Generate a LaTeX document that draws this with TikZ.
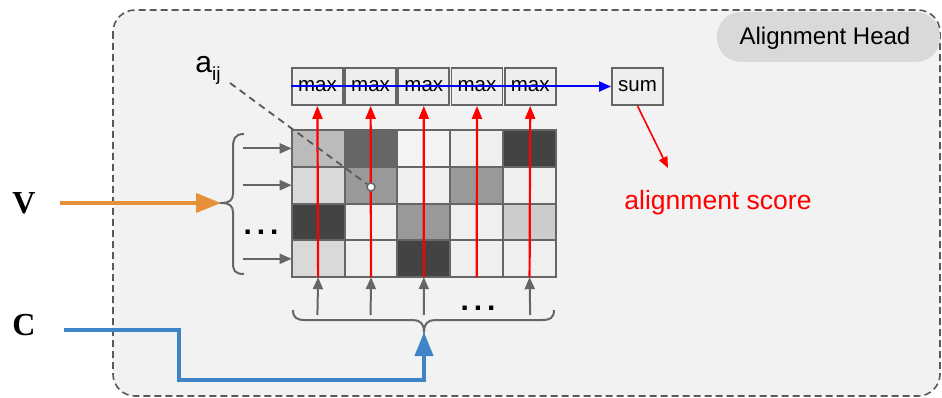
\documentclass[tikz,border=0pt]{standalone}
\usepackage{fontspec}
\setmainfont{Liberation Sans}
\newfontfamily\timesf{Liberation Serif}
\usetikzlibrary{arrows.meta}
\definecolor{boxbg}{HTML}{F2F2F2}
\definecolor{dashc}{HTML}{595959}
\definecolor{pillc}{HTML}{D9D9D9}
\definecolor{gridc}{HTML}{666666}
\definecolor{orangec}{HTML}{E69138}
\definecolor{bluec}{HTML}{3D85C6}
\definecolor{cA}{HTML}{434343}
\definecolor{cB}{HTML}{666666}
\definecolor{cC}{HTML}{999999}
\definecolor{cD}{HTML}{BBBBBB}
\definecolor{cE}{HTML}{CCCCCC}
\definecolor{cF}{HTML}{D9D9D9}
\definecolor{cG}{HTML}{EFEFEF}
\definecolor{cH}{HTML}{F3F3F3}
\definecolor{maxbg}{HTML}{EEEEEE}
\tikzset{
  cellbox/.style={draw=gridc, line width=2pt, minimum width=52.86pt, minimum height=36.8pt, inner sep=0pt, outer sep=0pt},
  opbox/.style={draw=gridc, line width=1.8pt, fill=maxbg, minimum width=51pt, minimum height=37pt, inner sep=0pt, font=\fontsize{20.5}{20.5}\selectfont},
  grayarrow/.style={draw=gridc, line width=2pt, -{Triangle[length=12pt,width=10pt]}},
  redarrow/.style={draw=red, line width=2.2pt, -{Triangle[length=13pt,width=10pt]}},
  bracec/.style={draw=gridc, line width=2pt},
  dotsstyle/.style={font=\bfseries\fontsize{30}{30}\selectfont, inner sep=0pt},
}
\begin{document}
\begin{tikzpicture}[x=1pt,y=-1pt]
\useasboundingbox (0,0) rectangle (942,398);
% outer dashed box
\draw[fill=boxbg, draw=dashc, line width=1.6pt, dash pattern=on 7pt off 4pt, rounded corners=22pt] (113,10) rectangle (940,396);
% pill
\fill[pillc, rounded corners=24pt] (717,12) rectangle (940,62);
\node[font=\fontsize{24}{24}\selectfont] (head) at (825,38) {Alignment Head};
% grid
\foreach \r/\cols in {1/{cD,cB,cH,cG,cA},2/{cF,cC,cG,cC,cG},3/{cA,cG,cC,cG,cE},4/{cF,cG,cA,cG,cG}}{
  \foreach \c [count=\i] in \cols {
    \node[cellbox, fill=\c] (cell-\r-\i) at ({291.7+(\i-0.5)*52.86},{130+(\r-0.5)*36.8}) {};
  }
}
% max boxes and sum
\foreach \i in {1,...,5}{
  \node[opbox] (max\i) at ({317.4+(\i-1)*53.2},86.5) {max};
}
\node[opbox] (sum) at (637.5,86.5) {sum};
% red arrows
\foreach \i in {1,...,5}{
  \draw[redarrow] (cell-4-\i.south) -- (max\i.south);
}
% blue sum line
\draw[draw=blue, line width=2pt, -{Triangle[length=12pt,width=10pt]}] (max1.west) -- (sum.west);
% alignment score
\node[text=red, font=\fontsize{26.5}{26.5}\selectfont] (score) at (718,203) {alignment score};
\coordinate (scoretip) at (668,168);
\draw[draw=red, line width=1.6pt, -{Triangle[length=11pt,width=9pt]}] (sum.south) -- (scoretip);
% a_ij
\node[font=\fontsize{30}{30}\selectfont, inner sep=0pt] (aij) at (208,70) {a\raisebox{-8pt}{\fontsize{19}{19}\selectfont ij}};
\coordinate (aijs) at (230,83);
\node[circle, draw=gridc, fill=white, line width=1.5pt, minimum size=8pt, inner sep=0pt] (pt) at (371,187) {};
\draw[draw=dashc, line width=1.8pt, dash pattern=on 7pt off 5pt] (aijs) -- (pt);
% left brace and arrows
\draw[bracec] (244,134) .. controls (234,134) and (233,140) .. (233,148) -- (233,194) .. controls (233,200) and (229,203) .. (222,203) .. controls (229,203) and (233,206) .. (233,212) -- (233,262) .. controls (233,270) and (234,274) .. (244,274);
\coordinate (brace-tip) at (221,203);
\foreach \r in {1,2,4}{
  \coordinate (ls\r) at (243,{130+(\r-0.5)*36.8});
  \draw[grayarrow] (ls\r) -- (cell-\r-1.west);
}
\node[dotsstyle] (ldots) at (261,232) {.\kern5pt.\kern5pt.};
% bottom brace and arrows
\draw[bracec] (293,310) .. controls (293,318) and (297,320) .. (305,320) -- (413,320) .. controls (420,320) and (424,324) .. (424,331) .. controls (424,324) and (428,320) .. (435,320) -- (542,320) .. controls (550,320) and (554,318) .. (554,310);
\coordinate (bbrace-tip) at (424,332);
\foreach \i in {1,2,3,5}{
  \coordinate (bs\i) at ({317.4+(\i-1)*53.2},315);
  \draw[grayarrow] (bs\i) -- (cell-4-\i.south);
}
\node[dotsstyle] (bdots) at (478,308) {.\kern5pt.\kern5pt.};
% V and C inputs
\node[font=\timesf\bfseries\fontsize{32}{32}\selectfont] (V) at (24,203) {V};
\node[font=\timesf\bfseries\fontsize{32}{32}\selectfont] (C) at (24,325) {C};
\coordinate (vstart) at (60,203);
\draw[draw=orangec, line width=4pt, -{Triangle[length=25pt,width=19pt]}] (vstart) -- (brace-tip);
\coordinate (cstart) at (64,330);
\draw[draw=bluec, line width=4pt, -{Triangle[length=24pt,width=18pt]}] (cstart) -- (179,330) -- (179,380) -- (424,380) -- (bbrace-tip);
\end{tikzpicture}
\end{document}
